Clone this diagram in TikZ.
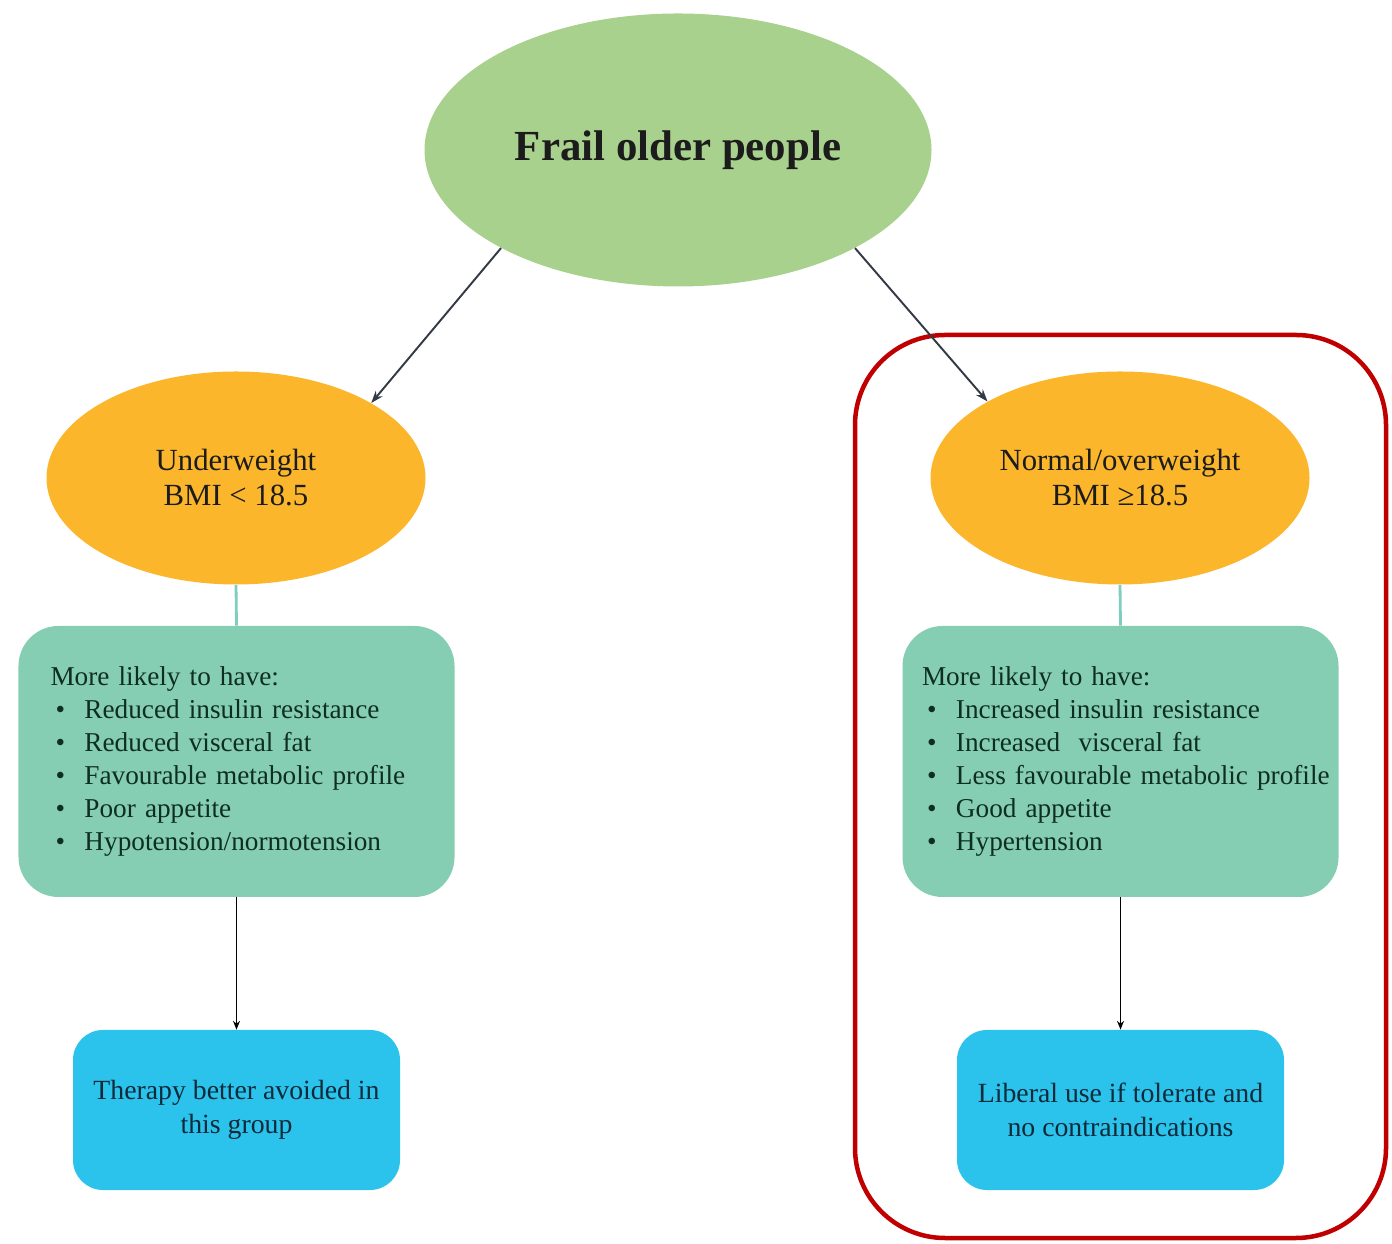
\documentclass[tikz,border=0pt]{standalone}
\usepackage{fontspec}
\setmainfont{Liberation Serif}
\usetikzlibrary{arrows.meta,positioning,shapes.geometric}

\definecolor{frailgreen}{HTML}{A9D18E}
\definecolor{bmiorange}{HTML}{FBB62C}
\definecolor{listgreen}{HTML}{85CDB3}
\definecolor{advblue}{HTML}{2BC3EB}
\definecolor{stemteal}{HTML}{7ECDC0}
\definecolor{framered}{HTML}{C00000}
\definecolor{inkdark}{HTML}{1C1C1C}
\definecolor{listink}{HTML}{0E2E22}
\definecolor{advink}{HTML}{0D2A3A}
\definecolor{arrowgray}{HTML}{333A44}

\newcommand{\bpt}{\hspace*{0.1cm}\makebox[0.58cm][l]{\textbullet}}

\begin{document}
\begin{tikzpicture}[
  oval/.style={ellipse, draw=none, align=center, inner sep=0pt},
  grp/.style={oval, fill=bmiorange, minimum width=7.58cm, minimum height=4.26cm,
              text=inkdark, font=\fontsize{17.5}{19.9}\selectfont},
  listbox/.style={fill=listgreen, rounded corners=0.8cm, minimum width=8.72cm,
                  minimum height=5.42cm, inner xsep=0pt, text width=7.44cm, align=left,
                  text=listink, font=\fontsize{15.5}{18.8}\selectfont},
  advice/.style={fill=advblue, rounded corners=0.6cm, minimum width=6.54cm,
                 minimum height=3.2cm, align=center, text=advink,
                 font=\fontsize{15.8}{19.3}\selectfont},
  frame/.style={draw=framered, line width=0.09cm, rounded corners=1.8cm},
  arr/.style={-{Stealth[length=7pt,width=5pt]}, draw=arrowgray, line width=1.1pt},
  thinarr/.style={-{Stealth[length=5pt,width=4pt]}, draw=black, line width=0.7pt},
  stem/.style={draw=stemteal, line width=1.6pt},
]
\useasboundingbox (0,0) rectangle (27.84,24.86);

% --- Focus frame round the right branch ---
\node[frame, minimum width=10.62cm, minimum height=18.06cm] (focus) at (22.41,9.13) {};

% --- Top ---
\node[oval, fill=frailgreen, minimum width=10.14cm, minimum height=5.46cm, text=inkdark,
      font=\bfseries\fontsize{24.4}{28}\selectfont] (frail) at (13.56,21.86) {Frail older people};

% --- Left branch: underweight ---
\node[grp] (under) at (4.72,15.3) {Underweight\\BMI < 18.5};
\node[listbox] (ulist) at (4.73,9.63) {More likely to have:\\
  \bpt Reduced insulin resistance\\
  \bpt Reduced visceral fat\\
  \bpt Favourable metabolic profile\\
  \bpt Poor appetite\\
  \bpt Hypotension/normotension};
\node[advice] (uadv) at (4.73,2.66) {Therapy better avoided in\\this group};

% --- Right branch: normal/overweight ---
\node[grp] (normal) at (22.4,15.3) {Normal/overweight\\BMI ≥18.5};
\node[listbox, text width=7.94cm] (nlist) at (22.41,9.63) {More likely to have:\\
  \bpt Increased insulin resistance\\
  \bpt Increased\ \ visceral fat\\
  \makebox[\linewidth][l]{\bpt Less favourable metabolic profile}\\
  \bpt Good appetite\\
  \bpt Hypertension};
\node[advice] (nadv) at (22.41,2.66) {Liberal use if tolerate and\\no contraindications};

\draw[arr] (frail.209) -- (under.29);
\draw[arr] (frail.331) -- (normal.150);

\draw[stem] (under.south) -- (ulist.north);
\draw[stem] (normal.south) -- (nlist.north);

\draw[thinarr] (ulist) -- (uadv);
\draw[thinarr] (nlist) -- (nadv);
\end{tikzpicture}
\end{document}
